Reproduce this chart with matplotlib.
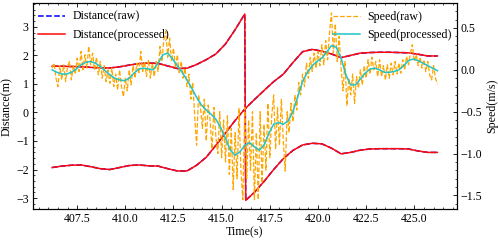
import matplotlib
matplotlib.use("Agg")
import matplotlib.pyplot as plt
from matplotlib.ticker import AutoMinorLocator
import numpy as np

plt.rcParams.update({
    'font.family': 'Liberation Serif',
    'font.size': 8.6,
    'xtick.direction': 'in',
    'ytick.direction': 'in',
    'xtick.top': True,
    'axes.linewidth': 0.8,
})

# distance series (raw and processed are nearly identical in the picture)
t_a = [406.2, 406.7, 407.2, 407.7, 408.2, 408.7, 409.2, 409.7, 410.2, 410.7,
       411.2, 411.7, 412.2, 412.7, 413.2, 413.7, 414.2, 414.7, 415.2, 415.7,
       416.2, 416.25, 416.7, 417.2, 417.7, 418.2, 418.7, 419.2, 419.7, 420.2,
       420.7, 421.2, 421.7, 422.2, 422.7, 423.2, 423.7, 424.2, 424.7, 425.2,
       425.7, 426.2]
dist_a = [1.62, 1.62, 1.61, 1.60, 1.58, 1.56, 1.56, 1.60, 1.66, 1.71,
          1.73, 1.72, 1.63, 1.54, 1.55, 1.68, 1.85, 2.05, 2.40, 2.90,
          3.45, -3.08, -2.80, -2.42, -2.00, -1.62, -1.33, -1.14, -1.08, -1.10,
          -1.25, -1.45, -1.40, -1.32, -1.28, -1.27, -1.27, -1.27, -1.28, -1.35,
          -1.40, -1.40]

t_b = [406.2, 406.7, 407.2, 407.7, 408.2, 408.7, 409.2, 409.7, 410.2, 410.7,
       411.2, 411.7, 412.2, 412.7, 413.2, 413.7, 414.2, 414.7, 415.2, 415.7,
       416.2, 416.7, 417.2, 417.7, 418.2, 418.7, 419.2, 419.7, 420.2, 420.7,
       421.2, 421.7, 422.2, 422.7, 423.2, 423.7, 424.2, 424.7, 425.2, 425.7,
       426.2]
dist_b = [-1.93, -1.88, -1.85, -1.84, -1.90, -1.97, -2.00, -1.93, -1.86, -1.84,
          -1.87, -1.88, -1.97, -2.05, -2.05, -1.85, -1.57, -1.15, -0.72, -0.28,
          0.12, 0.45, 0.77, 1.08, 1.34, 1.75, 2.13, 2.21, 2.15, 2.05,
          1.92, 2.00, 2.08, 2.10, 2.11, 2.11, 2.10, 2.09, 2.04, 1.98,
          1.98]

# processed speed, every 0.25 s from 406.2
speed_proc = [0.00, -0.03, -0.05, -0.05, -0.03, 0.01, 0.06, 0.09, 0.10, 0.08,
              0.04, -0.01, -0.06, -0.10, -0.12, -0.13, -0.10, -0.04, 0.01, 0.02,
              0.01, 0.00, 0.08, 0.18, 0.20, 0.13, 0.05, -0.03, -0.12, -0.22,
              -0.33, -0.42, -0.48, -0.53, -0.59, -0.69, -0.82, -0.96, -1.02, -0.98,
              -0.90, -0.87, -0.92, -0.96, -0.90, -0.76, -0.65, -0.63, -0.65, -0.61,
              -0.50, -0.32, -0.14, -0.03, 0.05, 0.10, 0.14, 0.21, 0.29, 0.27,
              0.14, -0.06, -0.18, -0.18, -0.11, -0.04, 0.01, 0.02, 0.00, -0.03,
              -0.03, -0.02, 0.00, 0.05, 0.11, 0.13, 0.11, 0.08, 0.05, 0.02,
              -0.01]
t_proc = 406.2 + 0.25 * np.arange(len(speed_proc))

# raw speed, every 0.1 s from 406.2
speed_raw = [0.02, 0.08, -0.10, -0.20, 0.05, -0.12, 0.06, -0.14, 0.04, 0.10,
             -0.12, 0.05, -0.05, 0.14, -0.02, 0.22, 0.00, 0.18, 0.02, 0.28,
             0.06, 0.20, 0.00, 0.15, -0.06, 0.10, -0.10, 0.05, -0.14, 0.00,
             -0.16, 0.02, -0.20, -0.05, -0.24, 0.00, -0.20, -0.32, -0.10, -0.25,
             0.00, -0.18, 0.05, -0.10, 0.08, -0.05, 0.22, -0.02, 0.10, -0.08,
             0.12, -0.10, 0.08, -0.08, 0.10, -0.02, 0.28, 0.10, 0.36, 0.46,
             0.15, 0.38, 0.10, 0.26, 0.02, 0.18, -0.05, 0.10, -0.10, 0.02,
             -0.20, -0.05, -0.35, -0.15, -0.55, -0.90, -0.30, -0.45, -0.70, -0.35,
             -0.85, -0.42, -0.60, -0.95, -0.45, -0.80, -1.00, -0.50, -1.05, -0.60,
             -1.10, -0.55, -1.25, -0.70, -1.43, -0.75, -1.30, -0.46, -1.20, -1.55,
             -0.45, -1.30, -0.60, -1.20, -0.50, -1.55, -0.75, -1.55, -0.50, -1.35,
             -0.65, -1.20, -0.40, -1.05, -0.55, -0.30, -0.95, -0.45, -0.90, -0.35,
             -0.85, -1.21, -0.50, -0.75, -0.40, -0.62, -0.30, -0.48, -0.15, -0.30,
             -0.05, -0.20, 0.08, -0.10, 0.15, -0.02, 0.20, 0.02, 0.22, 0.05,
             0.30, 0.06, 0.35, 0.12, 0.45, 0.68, 0.20, 0.55, 0.10, 0.40,
             0.02, -0.25, 0.10, -0.43, -0.10, -0.30, -0.05, -0.40, -0.08, -0.22,
             0.00, -0.18, 0.05, -0.10, 0.12, -0.05, 0.15, 0.00, 0.10, -0.08,
             0.12, -0.08, 0.05, -0.12, 0.06, -0.10, 0.08, -0.06, 0.10, -0.05,
             0.08, -0.04, 0.12, 0.00, 0.16, 0.06, 0.20, 0.30, 0.10, 0.18,
             0.05, 0.15, 0.02, 0.12, -0.02, 0.10, -0.06, -0.12, 0.05, -0.10,
             -0.17]
t_raw = 406.2 + 0.1 * np.arange(len(speed_raw))

fig = plt.figure(figsize=(4.98, 2.41), dpi=100)
ax1 = fig.add_axes([0.066, 0.132, 0.851, 0.856])
ax2 = ax1.twinx()

ax1.plot(t_a, dist_a, color='blue', ls='--', lw=1.1, label='Distance(raw)')
ax1.plot(t_b, dist_b, color='blue', ls='--', lw=1.1)
ax1.plot(t_a, dist_a, color='#ff0a0a', lw=1.1, label='Distance(processed)')
ax1.plot(t_b, dist_b, color='#ff0a0a', lw=1.1)

ax2.plot(t_raw, speed_raw, color='orange', ls='--', lw=0.9, label='Speed(raw)')
ax2.plot(t_proc, speed_proc, color='#22c4c4', lw=1.1, label='Speed(processed)')

ax1.set_xlim(405.2, 427.2)
ax1.set_ylim(-3.39, 3.84)
ax2.set_ylim(-1.665, 0.80)
ax1.set_xticks([407.5, 410.0, 412.5, 415.0, 417.5, 420.0, 422.5, 425.0])
ax1.set_yticks([-3, -2, -1, 0, 1, 2, 3])
ax2.set_yticks([-1.5, -1.0, -0.5, 0.0, 0.5])
for ax in (ax1, ax2):
    ax.xaxis.set_minor_locator(AutoMinorLocator())
    ax.yaxis.set_minor_locator(AutoMinorLocator())
    ax.tick_params(which='major', length=3, width=0.6, pad=3)
    ax.tick_params(which='minor', length=1.5, width=0.5)
ax1.tick_params(axis='y', right=False, which='both')

ax1.set_xlabel('Time(s)', labelpad=1)
ax1.set_ylabel('Distance(m)', labelpad=2)
ax2.set_ylabel('Speed(m/s)', labelpad=3)

ax1.legend(loc='upper left', frameon=False, handlelength=2.3, handletextpad=0.6,
           borderaxespad=0.2, borderpad=0.2, labelspacing=0.5,
           bbox_to_anchor=(0.0, 0.985))
ax2.legend(loc='upper right', frameon=False, handlelength=2.3, handletextpad=0.6,
           borderaxespad=0.2, borderpad=0.2, labelspacing=0.5,
           bbox_to_anchor=(1.0, 0.985))

fig.savefig('out.png', dpi=100)
